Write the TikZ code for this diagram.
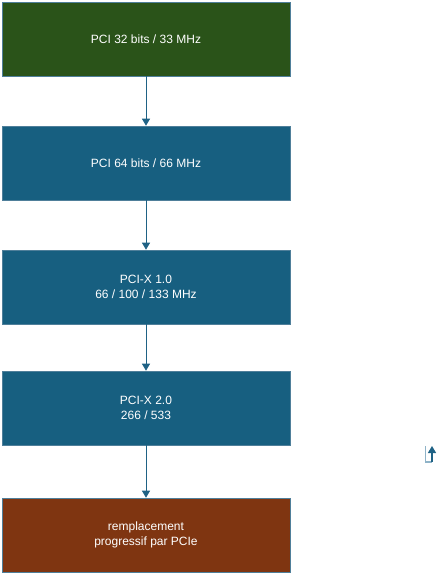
\documentclass[tikz,border=0pt]{standalone}
\usepackage{fontspec}
\setmainfont{Liberation Sans}
\usetikzlibrary{arrows.meta}
\definecolor{gbox}{HTML}{2A5319}
\definecolor{bbox}{HTML}{175F80}
\definecolor{rbox}{HTML}{7F3511}
\definecolor{edge}{HTML}{4F7F9A}
\definecolor{arr}{HTML}{1F6285}
\definecolor{lightl}{HTML}{8FB3C8}
\tikzset{
  stage/.style={draw=edge, line width=0.6pt, minimum width=288pt, minimum height=74pt, inner sep=0pt, text=white, font=\fontsize{12pt}{14.5pt}\selectfont, align=center},
  conn/.style={draw=arr, line width=1pt, -{Triangle[length=7pt,width=8pt]}}
}
\begin{document}
\begin{tikzpicture}[x=1pt,y=-1pt]
\useasboundingbox (0,0) rectangle (439,576);
\node[stage, fill=gbox] (a) at (146,39) {PCI 32 bits / 33 MHz};
\node[stage, fill=bbox] (b) at (146,163) {PCI 64 bits / 66 MHz};
\node[stage, fill=bbox] (c) at (146,287) {PCI-X 1.0\\66 / 100 / 133 MHz};
\node[stage, fill=bbox] (d) at (146,408) {PCI-X 2.0\\266 / 533};
\node[stage, fill=rbox] (e) at (146,535) {remplacement\\progressif par PCIe};
\draw[conn] (a) -- (b);
\draw[conn] (b) -- (c);
\draw[conn] (c) -- (d);
\draw[conn] (d) -- (e);
\coordinate (l1) at (425.5,446);
\coordinate (l2) at (425.5,462);
\coordinate (l3) at (432,462);
\coordinate (l4) at (432,446);
\draw[lightl, line width=1.2pt] (l1) -- (l2) -- (l3);
\draw[draw=arr, line width=1.2pt, -{Triangle[length=7pt,width=8pt]}] (l3) -- (l4);
\end{tikzpicture}
\end{document}
